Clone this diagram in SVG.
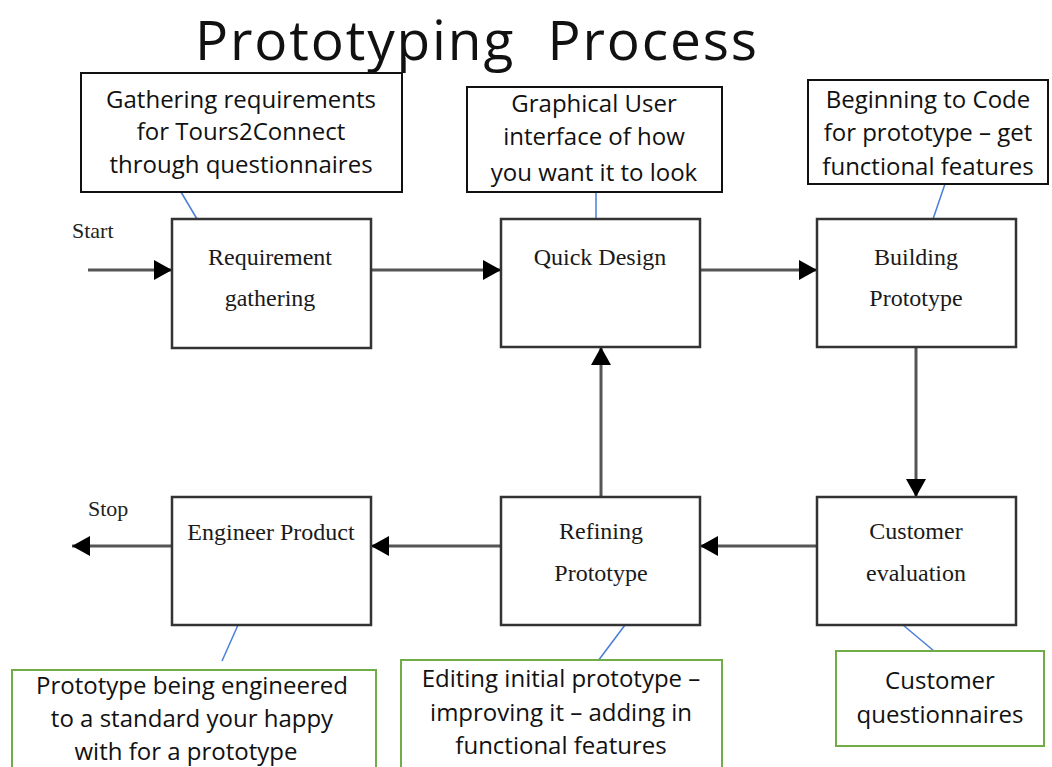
<svg xmlns="http://www.w3.org/2000/svg" width="1052" height="767" viewBox="0 0 1052 767">
<style>
.title{font-family:"Open Sans","Liberation Sans",sans-serif;font-size:55px;fill:#111}
.note{font-family:"Open Sans","Liberation Sans",sans-serif;font-size:24px;fill:#111;text-anchor:middle}
.proc{font-family:"Liberation Serif","DejaVu Serif",serif;font-size:24px;fill:#1a1a1a;text-anchor:middle}
.lbl{font-family:"Liberation Serif","DejaVu Serif",serif;font-size:22px;fill:#222}
.pbox{fill:#fff;stroke:#333;stroke-width:2.5}
.nbox{fill:#fff;stroke:#111;stroke-width:2}
.gbox{fill:#fff;stroke:#70ad47;stroke-width:2}
.flow{stroke:#555;stroke-width:3;fill:none;marker-end:url(#ah)}
.lead{stroke:#4a7ed9;stroke-width:1.5;fill:none}
</style>
<defs>
<marker id="ah" markerUnits="userSpaceOnUse" markerWidth="18" markerHeight="20" refX="18" refY="10" orient="auto">
<path d="M0,0 L18,10 L0,20 Z" fill="#000"/>
</marker>
</defs>
<rect width="1052" height="767" fill="#fff"/>
<text class="title" x="476" y="60" text-anchor="middle" textLength="562" lengthAdjust="spacing" xml:space="preserve">Prototyping  Process</text>

<g id="connectors">
<line class="flow" x1="88" y1="270" x2="172" y2="270"/>
<line class="flow" x1="371" y1="270" x2="501" y2="270"/>
<line class="flow" x1="700" y1="270" x2="817" y2="270"/>
<line class="flow" x1="916" y1="347" x2="916" y2="497"/>
<line class="flow" x1="817" y1="546" x2="700" y2="546"/>
<line class="flow" x1="501" y1="546" x2="371" y2="546"/>
<line class="flow" x1="172" y1="546" x2="72" y2="546"/>
<line class="flow" x1="601" y1="497" x2="601" y2="347"/>
<line class="lead" x1="181" y1="192" x2="197" y2="219"/>
<line class="lead" x1="596" y1="192" x2="596" y2="219"/>
<line class="lead" x1="945" y1="184" x2="933" y2="219"/>
<line class="lead" x1="238" y1="625" x2="222" y2="661"/>
<line class="lead" x1="625" y1="625" x2="598" y2="661"/>
<line class="lead" x1="903" y1="625" x2="934" y2="651"/>
</g>

<g id="start"><text class="lbl" x="72" y="238">Start</text></g>
<g id="stop"><text class="lbl" x="88" y="516">Stop</text></g>

<g id="note-gathering">
<rect class="nbox" x="81" y="73" width="321" height="119"/>
<text class="note" x="241" y="108">Gathering requirements</text>
<text class="note" x="241" y="140">for Tours2Connect</text>
<text class="note" x="241" y="173">through questionnaires</text>
</g>
<g id="note-gui">
<rect class="nbox" x="467" y="87" width="255" height="105"/>
<text class="note" x="594" y="112">Graphical User</text>
<text class="note" x="594" y="145">interface of how</text>
<text class="note" x="594" y="181">you want it to look</text>
</g>
<g id="note-code">
<rect class="nbox" x="808" y="80" width="240" height="104"/>
<text class="note" x="928" y="108">Beginning to Code</text>
<text class="note" x="928" y="141">for prototype – get</text>
<text class="note" x="928" y="175">functional features</text>
</g>

<g id="req">
<rect class="pbox" x="172" y="219" width="199" height="129"/>
<text class="proc" x="270" y="265">Requirement</text>
<text class="proc" x="270" y="306">gathering</text>
</g>
<g id="quick">
<rect class="pbox" x="501" y="219" width="199" height="128"/>
<text class="proc" x="600" y="265">Quick Design</text>
</g>
<g id="build">
<rect class="pbox" x="817" y="219" width="199" height="128"/>
<text class="proc" x="916" y="265">Building</text>
<text class="proc" x="916" y="306">Prototype</text>
</g>
<g id="engineer">
<rect class="pbox" x="172" y="497" width="199" height="128"/>
<text class="proc" x="271" y="540">Engineer Product</text>
</g>
<g id="refine">
<rect class="pbox" x="501" y="497" width="199" height="128"/>
<text class="proc" x="601" y="539">Refining</text>
<text class="proc" x="601" y="581">Prototype</text>
</g>
<g id="custeval">
<rect class="pbox" x="817" y="497" width="199" height="128"/>
<text class="proc" x="916" y="539">Customer</text>
<text class="proc" x="916" y="581">evaluation</text>
</g>

<g id="note-engineered">
<rect class="gbox" x="12" y="670" width="364" height="110"/>
<text class="note" x="192" y="694">Prototype being engineered</text>
<text class="note" x="192" y="727">to a standard your happy</text>
<text class="note" x="186" y="760">with for a prototype</text>
</g>
<g id="note-editing">
<rect class="gbox" x="401" y="660" width="321" height="120"/>
<text class="note" x="561" y="687">Editing initial prototype –</text>
<text class="note" x="561" y="721">improving it – adding in</text>
<text class="note" x="561" y="754">functional features</text>
</g>
<g id="note-cq">
<rect class="gbox" x="836" y="651" width="208" height="95"/>
<text class="note" x="940" y="689">Customer</text>
<text class="note" x="940" y="723">questionnaires</text>
</g>
</svg>
